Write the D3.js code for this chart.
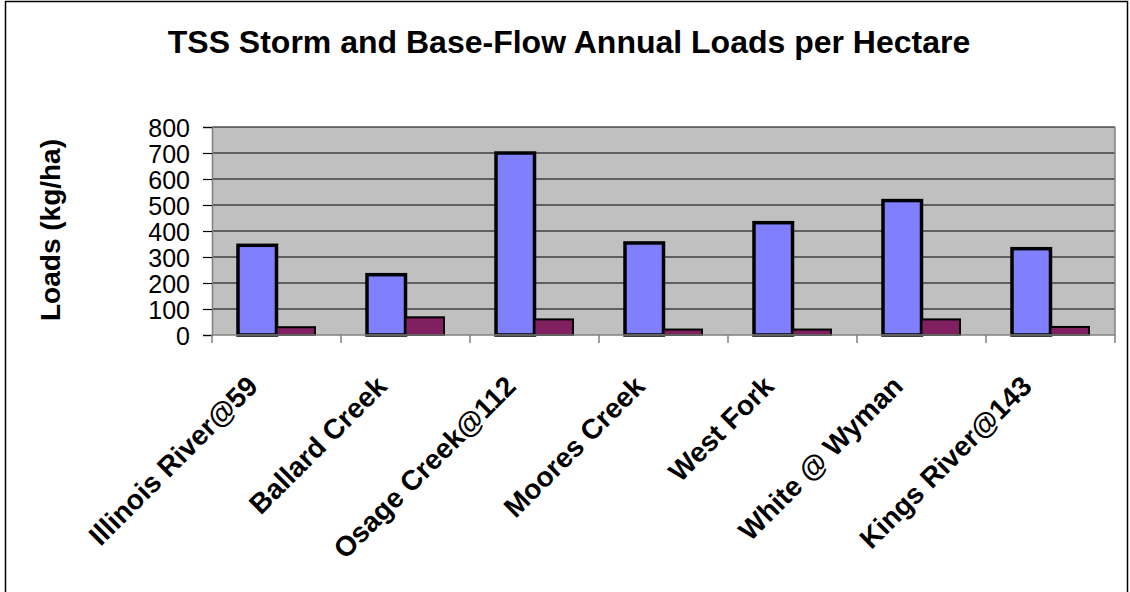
<!DOCTYPE html>
<html>
<head>
<meta charset="utf-8">
<script src="https://d3js.org/d3.v7.min.js"></script>
<style>
  body { margin: 0; background: #fff; }
  text { font-family: "Liberation Sans", Arial, sans-serif; fill: #000; }
</style>
</head>
<body>
<svg width="1130" height="592"></svg>
<script>
var sites = ["Illinois River@59", "Ballard Creek", "Osage Creek@112", "Moores Creek",
             "West Fork", "White @ Wyman", "Kings River@143"];
var storm = [345, 232, 700, 354, 432, 517, 332];
var base = [30, 68, 60, 21, 21, 60, 31];
var yTicks = [0, 100, 200, 300, 400, 500, 600, 700, 800];

var svg = d3.select("svg");

// outer chart border
svg.append("rect")
    .attr("x", 5.5).attr("y", 1.5)
    .attr("width", 1122).attr("height", 700)
    .attr("fill", "none").attr("stroke", "#000").attr("stroke-width", 1.5);

var pL = 212, pT = 127, pR = 1115, pB = 335;

var x = d3.scaleBand().domain(sites).range([pL, pR]).paddingInner(0).paddingOuter(0);
var y = d3.scaleLinear().domain([0, 800]).range([pB, pT]);

svg.append("rect")
    .attr("x", pL).attr("y", pT)
    .attr("width", pR - pL).attr("height", pB - pT)
    .attr("fill", "#c0c0c0");

// gridlines
svg.append("g").selectAll("line")
    .data(yTicks.slice(1))
  .enter().append("line")
    .attr("x1", pL).attr("x2", pR)
    .attr("y1", function(d) { return y(d); }).attr("y2", function(d) { return y(d); })
    .attr("stroke", "#000").attr("stroke-width", 1.2);

// right edge of plot
svg.append("line")
    .attr("x1", pR).attr("x2", pR).attr("y1", pT).attr("y2", pB)
    .attr("stroke", "#808080").attr("stroke-width", 1.5);

var bw = 38.5;
var gap = (x.bandwidth() - 2 * bw) / 2;

var g = svg.append("g");
g.selectAll(".storm")
    .data(sites)
  .enter().append("rect")
    .attr("class", "storm")
    .attr("x", function(d) { return x(d) + gap; })
    .attr("y", function(d, i) { return y(storm[i]); })
    .attr("width", bw)
    .attr("height", function(d, i) { return pB - y(storm[i]); })
    .attr("fill", "#8080ff").attr("stroke", "#000").attr("stroke-width", 3.5);

g.selectAll(".base")
    .data(sites)
  .enter().append("rect")
    .attr("class", "base")
    .attr("x", function(d) { return x(d) + gap + bw; })
    .attr("y", function(d, i) { return y(base[i]); })
    .attr("width", bw)
    .attr("height", function(d, i) { return pB - y(base[i]); })
    .attr("fill", "#802060").attr("stroke", "#000").attr("stroke-width", 2);

// y axis
var yAxis = d3.axisLeft(y).tickValues(yTicks).tickSize(9).tickPadding(13);
var ya = svg.append("g").attr("transform", "translate(" + pL + ",0)").call(yAxis);
ya.select(".domain").attr("stroke", "#808080").attr("stroke-width", 1.5);
ya.selectAll(".tick line").attr("stroke", "#000").attr("stroke-width", 1.2);
ya.selectAll(".tick text").style("font-size", "25px").attr("dy", "0.36em");

// x axis
var xa = svg.append("g").attr("transform", "translate(0," + pB + ")");
xa.append("line").attr("x1", pL).attr("x2", pR)
    .attr("stroke", "#808080").attr("stroke-width", 1.5);
xa.selectAll(".xt")
    .data(sites.concat(["end"]))
  .enter().append("line")
    .attr("x1", function(d) { return d === "end" ? pR : x(d); })
    .attr("x2", function(d) { return d === "end" ? pR : x(d); })
    .attr("y1", 0).attr("y2", 8)
    .attr("stroke", "#808080").attr("stroke-width", 1.5);

xa.selectAll(".xl")
    .data(sites)
  .enter().append("text")
    .attr("transform", function(d) {
      return "translate(" + (x(d) + x.bandwidth() / 2 - 17) + ",53) rotate(-45)";
    })
    .attr("text-anchor", "end")
    .style("font-size", "28px").style("font-weight", "bold")
    .text(function(d) { return d; });

// titles
svg.append("text")
    .attr("x", 569).attr("y", 53)
    .attr("text-anchor", "middle")
    .style("font-size", "32px").style("font-weight", "bold")
    .text("TSS Storm and Base-Flow Annual Loads per Hectare");

svg.append("text")
    .attr("transform", "translate(60,230) rotate(-90)")
    .attr("text-anchor", "middle")
    .style("font-size", "28px").style("font-weight", "bold")
    .text("Loads (kg/ha)");
</script>
</body>
</html>
